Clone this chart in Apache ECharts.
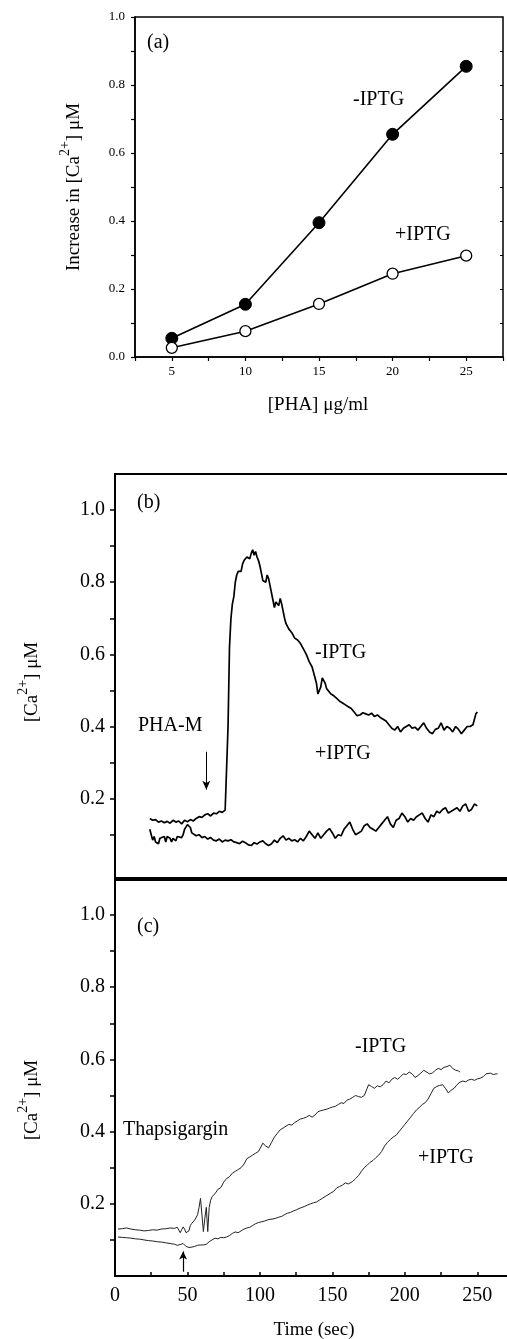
<!DOCTYPE html>
<html><head><meta charset="utf-8">
<script src="https://cdn.jsdelivr.net/npm/echarts/dist/echarts.min.js"></script>
<style>html,body{margin:0;padding:0;background:#fff;overflow:hidden}#c{width:507px;height:1339px}</style>
</head><body><div id="c"></div>
<script>
// ---------- DATA ----------
// Panel (a): increase in [Ca2+] vs PHA concentration
const phaDose = [5, 10, 15, 20, 25];
const aMinusIPTG = [0.055, 0.155, 0.395, 0.655, 0.855];
const aPlusIPTG = [0.027, 0.076, 0.156, 0.245, 0.298];
const aXTicks = [2.5, 5, 7.5, 10, 12.5, 15, 17.5, 20, 22.5, 25, 27.5];
const aXLabels = [5, 10, 15, 20, 25];

// Panel (b): PHA-M response, [time s, Ca uM]
const bMinusIPTG = [[24,.145],[26,.14],[28,.142],[30,.135],[32,.138],[34,.133],[36,.137],[38,.132],[40,.14],[42,.135],[44,.138],[46,.13],[48,.14],[50,.136],[52,.142],[54,.138],[56,.145],[58,.15],[60,.148],[62,.155],[64,.158],[66,.152],[68,.16],[70,.158],[72,.165],[74,.162],[76,.168],[77,.17],[78,.40],[79,.62],[80,.70],[81,.74],[82,.76],[83,.80],[84,.82],[85,.83],[86,.835],[87,.83],[88,.85],[89,.86],[90,.855],[91,.87],[92,.875],[93,.865],[94,.88],[95,.89],[96,.875],[97,.885],[98,.87],[99,.86],[100,.845],[101,.825],[102,.805],[103,.81],[104,.80],[105,.82],[106,.81],[107,.79],[108,.77],[109,.75],[110,.73],[111,.745],[112,.75],[113,.735],[114,.755],[115,.74],[116,.72],[117,.70],[118,.685],[119,.68],[120,.67],[122,.66],[124,.645],[126,.64],[128,.63],[130,.615],[132,.60],[134,.58],[136,.565],[137,.55],[138,.535],[139,.52],[140,.49],[141,.485],[142,.51],[143,.535],[144,.54],[145,.52],[146,.505],[147,.50],[149,.49],[151,.485],[153,.478],[155,.47],[157,.465],[159,.46],[161,.455],[163,.45],[165,.44],[167,.43],[169,.432],[171,.438],[173,.435],[175,.432],[177,.437],[179,.428],[181,.432],[183,.425],[185,.42],[187,.415],[189,.405],[191,.395],[193,.39],[195,.40],[197,.385],[199,.395],[201,.40],[203,.405],[205,.395],[207,.398],[209,.39],[211,.40],[213,.41],[215,.395],[217,.385],[219,.38],[221,.392],[223,.395],[225,.41],[227,.39],[229,.40],[231,.395],[233,.385],[235,.40],[237,.392],[239,.38],[241,.39],[243,.40],[245,.40],[247,.405],[248,.42],[249,.435],[250,.44]];
const bPlusIPTG = [[24,.115],[25,.10],[26,.085],[27,.095],[28,.08],[30,.075],[31,.09],[32,.085],[34,.095],[35,.08],[36,.095],[38,.09],[39,.08],[40,.09],[42,.083],[43,.095],[44,.10],[46,.092],[47,.10],[48,.115],[50,.128],[51,.132],[52,.12],[53,.105],[54,.10],[56,.097],[58,.10],[60,.092],[62,.095],[64,.088],[66,.092],[68,.085],[70,.083],[72,.088],[74,.08],[76,.085],[78,.083],[80,.086],[82,.08],[84,.078],[86,.075],[88,.082],[90,.078],[92,.072],[94,.07],[96,.078],[98,.074],[100,.08],[102,.083],[104,.075],[106,.07],[108,.075],[110,.085],[112,.078],[114,.09],[116,.097],[118,.085],[120,.09],[122,.083],[124,.086],[126,.08],[128,.09],[130,.083],[132,.095],[134,.11],[136,.10],[138,.09],[140,.105],[142,.09],[144,.10],[146,.11],[148,.117],[150,.105],[152,.09],[154,.10],[156,.097],[158,.115],[160,.125],[162,.135],[164,.115],[166,.10],[168,.105],[170,.11],[172,.125],[174,.13],[176,.12],[178,.115],[180,.11],[182,.12],[184,.13],[186,.14],[188,.15],[190,.13],[192,.12],[194,.14],[196,.145],[198,.16],[200,.15],[202,.135],[204,.145],[206,.14],[208,.15],[210,.155],[212,.16],[214,.145],[216,.135],[218,.155],[220,.15],[222,.165],[224,.16],[226,.17],[228,.175],[230,.16],[232,.165],[234,.17],[236,.175],[238,.165],[240,.18],[242,.185],[244,.165],[245,.16],[246,.17],[248,.185],[250,.18]];

// Panel (c): Thapsigargin response, [time s, Ca uM]
const cMinusIPTG = [[2,.13],[5,.131],[8,.133],[11,.13],[14,.128],[17,.127],[20,.125],[23,.126],[26,.128],[29,.127],[32,.13],[35,.131],[38,.133],[41,.132],[43,.135],[45,.12],[46,.128],[47,.136],[48,.13],[49,.12],[50,.115],[51,.125],[52,.14],[53,.146],[55,.155],[57,.17],[58,.19],[59,.215],[60,.22],[61,.123],[62,.16],[63,.19],[64,.123],[65,.19],[66,.21],[67,.22],[69,.228],[71,.24],[73,.245],[75,.26],[77,.27],[79,.275],[81,.285],[83,.29],[85,.295],[87,.30],[89,.31],[91,.325],[93,.33],[95,.335],[97,.34],[99,.345],[101,.36],[102,.368],[104,.36],[106,.355],[108,.37],[110,.385],[112,.395],[114,.405],[116,.41],[118,.415],[120,.42],[122,.418],[124,.425],[126,.43],[128,.435],[130,.437],[132,.44],[134,.445],[136,.44],[138,.446],[140,.455],[142,.458],[144,.46],[146,.462],[148,.465],[150,.468],[152,.47],[154,.475],[156,.48],[158,.478],[160,.487],[162,.49],[164,.495],[166,.50],[168,.497],[170,.495],[172,.50],[174,.52],[175,.53],[177,.525],[179,.52],[181,.527],[183,.524],[185,.53],[187,.54],[189,.535],[191,.545],[193,.55],[195,.545],[197,.552],[199,.56],[201,.558],[203,.565],[205,.56],[207,.55],[209,.555],[211,.562],[213,.57],[215,.565],[217,.56],[219,.562],[221,.57],[223,.575],[225,.572],[227,.578],[229,.58],[231,.584],[233,.575],[235,.57],[237,.568],[238,.565]];
const cPlusIPTG = [[2,.108],[5,.107],[8,.106],[11,.105],[14,.103],[17,.102],[20,.10],[23,.098],[26,.097],[29,.095],[32,.094],[35,.092],[38,.09],[41,.088],[43,.085],[45,.087],[47,.09],[49,.082],[51,.079],[53,.08],[55,.082],[57,.085],[59,.086],[61,.086],[63,.088],[65,.095],[67,.10],[69,.105],[71,.103],[73,.107],[75,.106],[77,.108],[79,.112],[81,.118],[83,.122],[85,.12],[87,.125],[89,.13],[91,.133],[93,.135],[95,.14],[97,.145],[99,.148],[101,.15],[103,.152],[105,.155],[107,.157],[109,.158],[111,.16],[113,.163],[115,.165],[117,.17],[119,.174],[121,.176],[123,.18],[125,.183],[127,.187],[129,.19],[131,.193],[133,.197],[135,.20],[137,.203],[139,.205],[141,.21],[143,.215],[145,.22],[147,.225],[149,.23],[151,.235],[153,.244],[155,.248],[157,.252],[159,.258],[160,.26],[161,.255],[162,.25],[164,.262],[166,.27],[168,.278],[170,.29],[172,.30],[174,.307],[176,.315],[178,.32],[180,.328],[182,.335],[184,.345],[186,.36],[188,.37],[190,.378],[192,.385],[194,.39],[196,.40],[198,.41],[200,.42],[202,.43],[204,.44],[206,.45],[208,.46],[210,.467],[212,.475],[214,.48],[216,.49],[218,.505],[220,.52],[222,.525],[224,.528],[226,.53],[228,.52],[230,.507],[232,.515],[234,.52],[236,.53],[238,.537],[240,.54],[242,.538],[244,.543],[246,.545],[248,.542],[250,.546],[252,.548],[254,.552],[256,.56],[257,.565],[259,.562],[261,.558],[263,.56],[264,.56]];

const caTicks = [0.1,0.2,0.3,0.4,0.5,0.6,0.7,0.8,0.9,1.0];
const caLabels = [0.2,0.4,0.6,0.8,1.0];
const timeTicks = [0,25,50,75,100,125,150,175,200,225,250];
const timeLabels = [0,50,100,150,200,250];
const bArrow = [[63,0.33],[63,0.225]];
const cArrow = [[47,0.012],[47,0.068]];

// ---------- CHART ----------
const F = '"Liberation Serif","Times New Roman",serif';
const chart = echarts.init(document.getElementById('c'), null, {renderer:'canvas'});
function rich(fs){
  return {
    n:{fontSize:fs,fontFamily:F,color:'#000',lineHeight:fs*1.7},
    s:{fontSize:Math.round(fs*0.72),fontFamily:F,color:'#000',verticalAlign:'top',lineHeight:fs*0.7}
  };
}
function txt(text,x,y,fs,align){
  return {type:'text',x:x,y:y,silent:true,style:{text:text,fontFamily:F,fontSize:fs,fill:'#000',align:align||'left',verticalAlign:'middle'}};
}
function rtxt(text,x,y,fs,rot){
  return {type:'text',x:x,y:y,rotation:rot||0,silent:true,style:{text:text,rich:rich(fs),align:'center',verticalAlign:'middle'}};
}
const option = {
  backgroundColor:'#fff',
  animation:false,
  grid:[
    {left:135,top:17,width:368,height:340,show:true,borderColor:'#000',borderWidth:1.5,backgroundColor:'transparent',outerBoundsMode:'none',containLabel:false},
    {left:115,top:474,width:400,height:404,show:true,borderColor:'#000',borderWidth:2,backgroundColor:'transparent',outerBoundsMode:'none',containLabel:false},
    {left:115,top:880,width:400,height:396,show:true,borderColor:'#000',borderWidth:2,backgroundColor:'transparent',outerBoundsMode:'none',containLabel:false}
  ],
  xAxis:[
    {gridIndex:0,type:'value',min:2.5,max:27.5,axisLine:{show:true,lineStyle:{color:'#000',width:1.5}},splitLine:{show:false},
      axisTick:{show:true,inside:false,length:4,customValues:aXTicks,lineStyle:{color:'#000',width:1.2}},
      axisLabel:{customValues:aXLabels,margin:8,fontFamily:F,fontSize:13,color:'#000'}},
    {gridIndex:0,type:'value',position:'top',min:2.5,max:27.5,axisLine:{show:false},splitLine:{show:false},
      axisTick:{show:true,inside:true,length:3,customValues:aXTicks,lineStyle:{color:'#000',width:1}},axisLabel:{show:false}},
    {gridIndex:1,type:'value',min:0,max:276,axisLine:{show:false},splitLine:{show:false},axisTick:{show:false},axisLabel:{show:false}},
    {gridIndex:2,type:'value',min:0,max:276,axisLine:{show:true,lineStyle:{color:'#000',width:2}},splitLine:{show:false},
      axisTick:{show:true,inside:true,length:4,customValues:timeTicks,lineStyle:{color:'#000',width:1.5}},
      axisLabel:{customValues:timeLabels,margin:10,fontFamily:F,fontSize:20,color:'#000'}}
  ],
  yAxis:[
    {gridIndex:0,type:'value',min:0,max:1,axisLine:{show:true,lineStyle:{color:'#000',width:1.5}},splitLine:{show:false},
      axisTick:{show:true,length:4,customValues:[0,0.1,0.2,0.3,0.4,0.5,0.6,0.7,0.8,0.9,1.0],lineStyle:{color:'#000',width:1.2}},
      axisLabel:{customValues:[0,0.2,0.4,0.6,0.8,1.0],margin:10,fontFamily:F,fontSize:13,color:'#000',formatter:v=>v.toFixed(1)}},
    {gridIndex:0,type:'value',position:'right',min:0,max:1,axisLine:{show:false},splitLine:{show:false},
      axisTick:{show:true,inside:true,length:3,customValues:[0.1,0.2,0.3,0.4,0.5,0.6,0.7,0.8,0.9],lineStyle:{color:'#000',width:1}},axisLabel:{show:false}},
    {gridIndex:1,type:'value',min:-0.02,max:1.1,axisLine:{show:true,lineStyle:{color:'#000',width:2}},splitLine:{show:false},
      axisTick:{show:true,length:5,customValues:caTicks,lineStyle:{color:'#000',width:1.5}},
      axisLabel:{customValues:caLabels,margin:10,fontFamily:F,fontSize:20,color:'#000',formatter:v=>v.toFixed(1)}},
    {gridIndex:2,type:'value',min:0,max:1.097,axisLine:{show:true,lineStyle:{color:'#000',width:2}},splitLine:{show:false},
      axisTick:{show:true,length:5,customValues:caTicks,lineStyle:{color:'#000',width:1.5}},
      axisLabel:{customValues:caLabels,margin:10,fontFamily:F,fontSize:20,color:'#000',formatter:v=>v.toFixed(1)}}
  ],
  series:[
    {type:'line',xAxisIndex:0,yAxisIndex:0,data:phaDose.map((d,i)=>[d,aMinusIPTG[i]]),symbol:'circle',symbolSize:12,
      lineStyle:{color:'#000',width:1.6},itemStyle:{color:'#000',borderColor:'#000',borderWidth:1}},
    {type:'line',xAxisIndex:0,yAxisIndex:0,data:phaDose.map((d,i)=>[d,aPlusIPTG[i]]),symbol:'circle',symbolSize:11,
      lineStyle:{color:'#000',width:1.6},itemStyle:{color:'#fff',borderColor:'#000',borderWidth:1.3}},
    {type:'line',xAxisIndex:2,yAxisIndex:2,data:bMinusIPTG,showSymbol:false,symbol:'none',lineStyle:{color:'#000',width:1.7},
      markLine:{silent:true,symbol:['none','arrow'],symbolSize:[6,9],label:{show:false},lineStyle:{color:'#000',width:1,type:'solid'},
        data:[[{coord:bArrow[0]},{coord:bArrow[1]}]]}},
    {type:'line',xAxisIndex:2,yAxisIndex:2,data:bPlusIPTG,showSymbol:false,symbol:'none',lineStyle:{color:'#000',width:1.7}},
    {type:'line',xAxisIndex:3,yAxisIndex:3,data:cMinusIPTG,showSymbol:false,symbol:'none',lineStyle:{color:'#222',width:1},
      markLine:{silent:true,symbol:['none','arrow'],symbolSize:[6,8],label:{show:false},lineStyle:{color:'#000',width:1.2,type:'solid'},
        data:[[{coord:cArrow[0]},{coord:cArrow[1]}]]}},
    {type:'line',xAxisIndex:3,yAxisIndex:3,data:cPlusIPTG,showSymbol:false,symbol:'none',lineStyle:{color:'#222',width:1}}
  ],
  graphic:[
    txt('(a)',147,43,20),
    txt('-IPTG',353,100,20),
    txt('+IPTG',395,235,20),
    rtxt('{n|Increase in [Ca}{s|2+}{n|] μM}',74,187,19,Math.PI/2),
    txt('[PHA] μg/ml',318,405,19,'center'),
    txt('(b)',137,503,20),
    txt('-IPTG',315,653,20),
    txt('PHA-M',138,726,20),
    txt('+IPTG',315,754,20),
    rtxt('{n|[Ca}{s|2+}{n|] μM}',32,682,19,Math.PI/2),
    txt('(c)',137,927,20),
    txt('-IPTG',355,1047,20),
    txt('Thapsigargin',123,1130,20),
    txt('+IPTG',418,1158,20),
    rtxt('{n|[Ca}{s|2+}{n|] μM}',32,1100,19,Math.PI/2),
    txt('Time (sec)',314,1330,19,'center')
  ]
};
chart.setOption(option);
</script></body></html>
